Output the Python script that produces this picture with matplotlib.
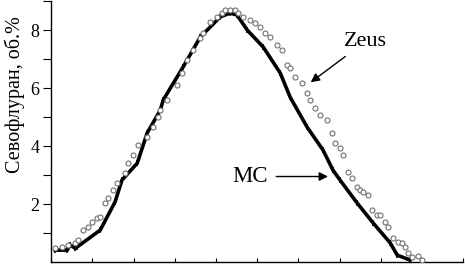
import matplotlib
matplotlib.use("Agg")
import matplotlib.pyplot as plt

# MC (black, dense trace)
mc_t = [0.10, 0.39, 0.46, 0.58, 0.63, 1.19, 1.55, 1.72, 2.09, 2.33, 2.65, 2.72,
        3.20, 3.62, 4.10, 4.34, 4.51, 4.76, 5.15, 5.56, 5.80, 6.21, 6.60, 6.84,
        7.01, 7.43, 7.82, 8.23, 8.40, 8.71]
mc_val = [0.41, 0.41, 0.59, 0.48, 0.52, 1.10, 2.07, 2.83, 3.41, 4.45, 5.24, 5.59,
          6.72, 7.76, 8.45, 8.59, 8.52, 8.00, 7.41, 6.52, 5.69, 4.66, 3.86, 3.17,
          2.83, 2.03, 1.34, 0.66, 0.24, 0.07]

# Zeus (open circles)
zeus_t = [0.10, 0.27, 0.41, 0.58, 0.66, 0.78, 0.90, 1.00, 1.12, 1.19, 1.31, 1.38,
          1.50, 1.60, 1.80, 1.87, 1.99, 2.11, 2.33, 2.48, 2.60, 2.65, 2.82, 3.06,
          3.18, 3.30, 3.45, 3.62, 3.69, 3.86, 4.03, 4.15, 4.22, 4.34, 4.47, 4.54,
          4.66, 4.83, 4.95, 5.07, 5.19, 5.32, 5.49, 5.61, 5.73, 5.80, 5.92, 6.09,
          6.21, 6.29, 6.41, 6.53, 6.70, 6.82, 6.89, 7.01, 7.09, 7.21, 7.31, 7.43,
          7.50, 7.57, 7.69, 7.79, 7.91, 7.99, 8.11, 8.18, 8.30, 8.42, 8.52, 8.59,
          8.67, 8.76, 8.91, 9.00]
zeus_val = [0.48, 0.52, 0.59, 0.66, 0.76, 1.10, 1.21, 1.38, 1.52, 1.55, 2.03, 2.21,
            2.48, 2.72, 3.07, 3.41, 3.69, 4.03, 4.31, 4.66, 5.00, 5.24, 5.59, 6.10,
            6.52, 6.97, 7.31, 7.72, 7.90, 8.28, 8.45, 8.59, 8.69, 8.69, 8.69, 8.59,
            8.45, 8.34, 8.24, 8.10, 7.90, 7.76, 7.48, 7.31, 6.79, 6.69, 6.38, 6.17,
            5.83, 5.59, 5.31, 5.07, 4.90, 4.45, 4.10, 3.93, 3.69, 3.10, 2.90, 2.59,
            2.48, 2.41, 2.31, 1.79, 1.62, 1.62, 1.38, 1.21, 0.83, 0.69, 0.66, 0.52,
            0.31, 0.17, 0.21, 0.07]

y_ticks = [2, 4, 6, 8]

plt.rcParams["font.family"] = ["Liberation Serif", "DejaVu Serif"]

fig = plt.figure(figsize=(4.65, 2.71), dpi=100)
ax = fig.add_axes([0.110, 0.033, 0.886, 0.963])

ax.plot(mc_t, mc_val, color="black", lw=2.6, solid_joinstyle="miter", zorder=2)
ax.plot(mc_t, mc_val, "|", color="black", ms=5, mew=1.2, zorder=2)
ax.plot(zeus_t, zeus_val, "o", ms=3.6, mfc="white", mec="#707070", mew=0.8, zorder=3)

ax.set_xlim(0, 10)
ax.set_ylim(0, 9)
ax.set_xticks(range(0, 11))
ax.set_xticklabels([])
ax.set_yticks(y_ticks)
ax.set_yticks([1, 3, 5, 7, 9], minor=True)
ax.tick_params(axis="x", direction="in", length=3, width=0.8)
ax.tick_params(axis="y", which="both", direction="out", length=5.5, width=0.8,
               labelsize=13, pad=3)
for s in ("top", "right"):
    ax.spines[s].set_visible(False)
for s in ("left", "bottom"):
    ax.spines[s].set_linewidth(1.0)

ax.set_ylabel("Севофлуран, об.%", fontsize=14.5)
ax.yaxis.set_label_coords(-0.064, 0.64)

ax.annotate("Zeus", xy=(6.3, 6.2), xytext=(7.1, 7.6), fontsize=16,
            ha="left", va="center",
            arrowprops=dict(arrowstyle="-|>", color="black", lw=1.0,
                            shrinkA=3, shrinkB=0, mutation_scale=13))
ax.annotate("MC", xy=(6.72, 2.95), xytext=(4.83, 2.95), fontsize=16.5,
            ha="center", va="center",
            arrowprops=dict(arrowstyle="-|>", color="black", lw=1.0,
                            shrinkA=4, shrinkB=0, mutation_scale=13))

fig.savefig("out.png", dpi=100)
